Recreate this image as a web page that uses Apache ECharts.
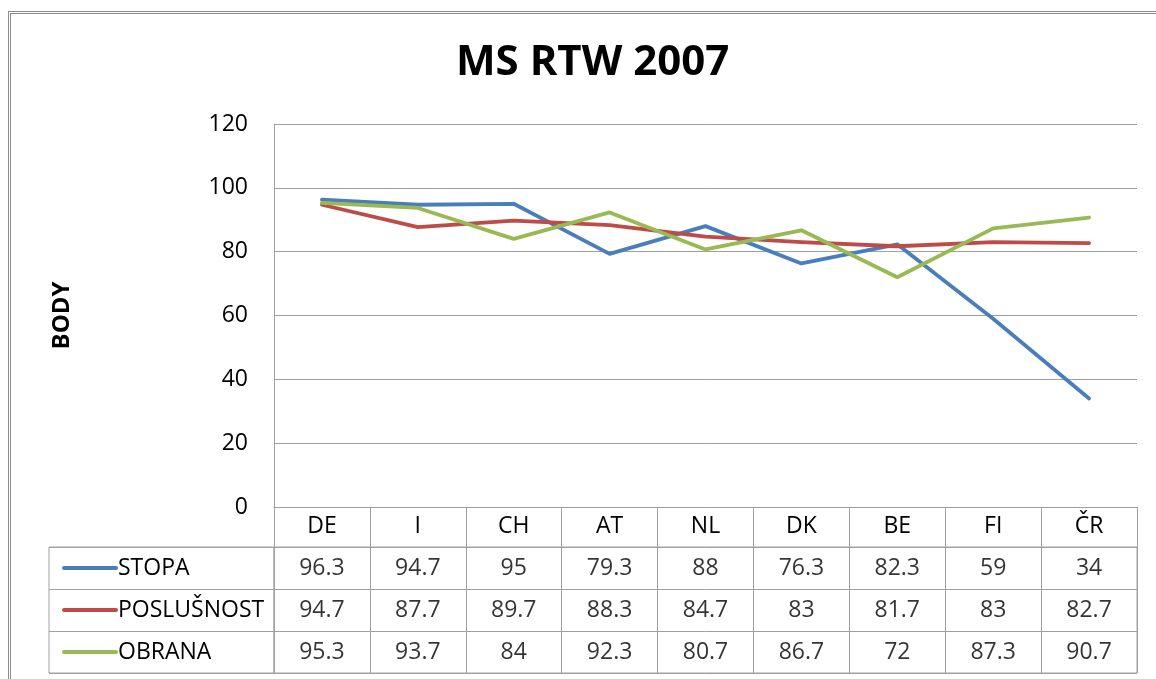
<!DOCTYPE html>
<html style="height: 100%">
<head>
  <meta charset="utf-8">
</head>
<body style="height: 100%; margin: 0">
  <div id="frame" style="position: absolute; left: 8px; top: 11px; width: 1300px; height: 800px; border-left: 3px double #8c8c8c; border-top: 3px double #8c8c8c;"></div>
  <div id="container" style="position: absolute; left: 0; top: 0; width: 1156px; height: 679px"></div>

  <script type="text/javascript" src="https://cdn.jsdelivr.net/npm/echarts@6/dist/echarts.min.js"></script>
  <script type="text/javascript">
    var categories = ['DE', 'I', 'CH', 'AT', 'NL', 'DK', 'BE', 'FI', 'ČR'];
    var seriesNames = ['STOPA', 'POSLUŠNOST', 'OBRANA'];
    var stopa = [96.3, 94.7, 95, 79.3, 88, 76.3, 82.3, 59, 34];
    var poslusnost = [94.7, 87.7, 89.7, 88.3, 84.7, 83, 81.7, 83, 82.7];
    var obrana = [95.3, 93.7, 84, 92.3, 80.7, 86.7, 72, 87.3, 90.7];
    var colors = ['#4a7ebb', '#be4b48', '#98b954'];

    var font = '"Open Sans", sans-serif';
    var gridColor = '#a0a0a0';

    var dom = document.getElementById("container");
    var myChart = echarts.init(dom);

    var allValues = [stopa, poslusnost, obrana];

    // cells of the data table
    var cells = [];
    allValues.forEach(function (vals, r) {
      vals.forEach(function (v, c) {
        cells.push([c, seriesNames[r], v]);
      });
    });

    var lineSeries = allValues.map(function (vals, i) {
      return {
        name: seriesNames[i],
        type: 'line',
        xAxisIndex: 0,
        yAxisIndex: 0,
        data: vals,
        symbol: 'none',
        silent: true,
        lineStyle: { color: colors[i], width: 3.8, cap: 'round', join: 'round' },
        z: 3 + i
      };
    });

    var option = {
      animation: false,
      textStyle: { fontFamily: font },
      title: {
        text: 'MS RTW 2007',
        left: 451,
        top: 37,
        textStyle: { fontFamily: font, fontSize: 42, fontWeight: 'bold', color: '#000' }
      },
      grid: [
        { left: 274, right: 19, top: 124, bottom: 172, outerBoundsMode: 'none', containLabel: false },
        { left: 274, right: 19, top: 547, height: 126, outerBoundsMode: 'none', containLabel: false,
          show: true, borderColor: gridColor, borderWidth: 1, backgroundColor: 'transparent' },
        { left: 49, width: 225, top: 547, height: 126, outerBoundsMode: 'none', containLabel: false,
          show: true, borderColor: gridColor, borderWidth: 1, backgroundColor: 'transparent' }
      ],
      xAxis: [
        {
          gridIndex: 0,
          type: 'category',
          data: categories,
          boundaryGap: true,
          axisLine: { show: true, lineStyle: { color: gridColor, width: 1 } },
          axisTick: { show: true, length: 40, lineStyle: { color: gridColor } },
          axisLabel: { color: '#000', fontSize: 23, margin: 8, fontFamily: font },
          splitLine: { show: false }
        },
        {
          gridIndex: 1,
          type: 'category',
          data: categories,
          boundaryGap: true,
          axisLine: { show: false },
          axisTick: { show: false },
          axisLabel: { show: false },
          splitLine: { show: true, lineStyle: { color: gridColor, width: 1 } }
        },
        {
          gridIndex: 2,
          type: 'value',
          show: false
        }
      ],
      yAxis: [
        {
          gridIndex: 0,
          type: 'value',
          min: 0,
          max: 120,
          interval: 20,
          name: 'BODY',
          nameLocation: 'middle',
          nameRotate: 90,
          nameGap: 200,
          nameTextStyle: { fontFamily: font, fontSize: 24, fontWeight: 'bold', color: '#000' },
          axisLine: { show: true, lineStyle: { color: gridColor, width: 1 } },
          axisTick: { show: false },
          axisLabel: { color: '#000', fontSize: 23, margin: 26, fontFamily: font },
          splitLine: { show: true, lineStyle: { color: gridColor, width: 1 } }
        },
        {
          gridIndex: 1,
          type: 'category',
          data: seriesNames,
          inverse: true,
          axisLine: { show: false },
          axisTick: { show: false },
          axisLabel: { show: false },
          splitLine: { show: true, lineStyle: { color: gridColor, width: 1 } }
        },
        {
          gridIndex: 2,
          type: 'category',
          data: seriesNames,
          inverse: true,
          axisLine: { show: false },
          axisTick: { show: false },
          splitLine: { show: true, lineStyle: { color: gridColor, width: 1 } },
          axisLabel: {
            inside: true,
            margin: 13,
            formatter: function (name) {
              var i = seriesNames.indexOf(name);
              return '{k' + i + '|}{t|' + name + '}';
            },
            rich: {
              k0: { backgroundColor: colors[0], width: 56, height: 4, borderRadius: 2 },
              k1: { backgroundColor: colors[1], width: 56, height: 4, borderRadius: 2 },
              k2: { backgroundColor: colors[2], width: 56, height: 4, borderRadius: 2 },
              t: { fontFamily: font, fontSize: 23, color: '#000' }
            }
          }
        }
      ],
      series: lineSeries.concat([
        {
          name: 'table',
          type: 'scatter',
          xAxisIndex: 1,
          yAxisIndex: 1,
          data: cells,
          symbolSize: 1,
          silent: true,
          itemStyle: { color: 'transparent' },
          label: {
            show: true,
            position: 'inside',
            color: '#000',
            fontSize: 23,
            fontFamily: font,
            formatter: function (p) { return String(p.value[2]); }
          }
        }
      ])
    };

    myChart.setOption(option);
  </script>
</body>
</html>
